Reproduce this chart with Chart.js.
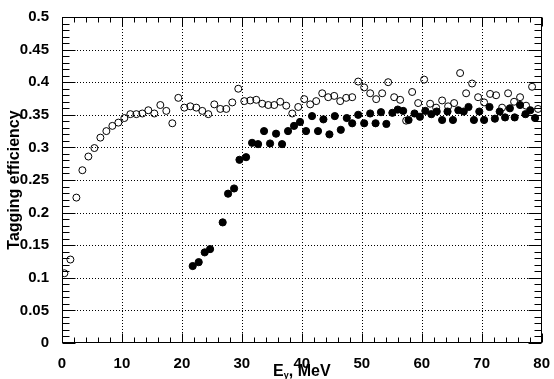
<!DOCTYPE html>
<html>
<head>
<meta charset="utf-8">
<script src="https://cdn.jsdelivr.net/npm/chart.js@4.4.1/dist/chart.umd.min.js"></script>
<style>
    html, body { margin: 0; padding: 0; background: #fff; }
    #chart { display: block; }
</style>
</head>
<body>
<canvas id="chart" width="554" height="379"></canvas>
<script>
// open circles: all tagged photons
var openEnergy = [0.4, 1.4, 2.4, 3.4, 4.4, 5.4, 6.4, 7.4, 8.4, 9.4,
    10.4, 11.4, 12.4, 13.4, 14.4, 15.4, 16.4, 17.4, 18.4, 19.4,
    20.4, 21.4, 22.4, 23.4, 24.4, 25.4, 26.4, 27.4, 28.4, 29.4,
    30.4, 31.4, 32.4, 33.4, 34.4, 35.4, 36.4, 37.4, 38.4, 39.4,
    40.4, 41.4, 42.4, 43.4, 44.4, 45.4, 46.4, 47.4, 48.4, 49.4,
    50.4, 51.4, 52.4, 53.4, 54.4, 55.4, 56.4, 57.4, 58.4, 59.4,
    60.4, 61.4, 62.4, 63.4, 64.4, 65.4, 66.4, 67.4, 68.4, 69.4,
    70.4, 71.4, 72.4, 73.4, 74.4, 75.4, 76.4, 77.4, 78.4, 79.4];
var openEff = [0.107, 0.128, 0.223, 0.265, 0.286, 0.299, 0.315, 0.325, 0.333, 0.338,
    0.345, 0.351, 0.351, 0.352, 0.357, 0.352, 0.365, 0.356, 0.337, 0.376,
    0.361, 0.363, 0.361, 0.356, 0.351, 0.366, 0.359, 0.359, 0.369, 0.390,
    0.371, 0.372, 0.373, 0.367, 0.365, 0.365, 0.370, 0.364, 0.352, 0.362,
    0.374, 0.366, 0.371, 0.383, 0.377, 0.379, 0.371, 0.376, 0.377, 0.401,
    0.392, 0.383, 0.374, 0.383, 0.400, 0.377, 0.373, 0.341, 0.385, 0.368,
    0.404, 0.367, 0.361, 0.372, 0.363, 0.368, 0.414, 0.383, 0.398, 0.377,
    0.369, 0.382, 0.380, 0.361, 0.383, 0.370, 0.377, 0.364, 0.393, 0.359];

// filled circles
var filledEnergy = [21.8, 22.8, 23.8, 24.7, 26.8, 27.7, 28.7, 29.6,
    30.7, 31.7, 32.7, 33.7, 34.7, 35.7, 36.7, 37.7, 38.7, 39.7,
    40.7, 41.7, 42.7, 43.6, 44.6, 45.5, 46.5, 47.5, 48.4, 49.4,
    50.4, 51.4, 52.3, 53.2, 54.1, 55.1, 56.0, 56.9, 57.8, 58.8, 59.7,
    60.6, 61.6, 62.5, 63.4, 64.3, 65.2, 66.1, 67.0, 67.8, 68.7, 69.6,
    70.4, 71.3, 72.2, 73.0, 73.9, 74.7, 75.5, 76.4, 77.3, 78.1, 78.9];
var filledEff = [0.118, 0.124, 0.139, 0.144, 0.185, 0.229, 0.237, 0.281,
    0.285, 0.307, 0.305, 0.325, 0.306, 0.321, 0.305, 0.325, 0.333, 0.339,
    0.325, 0.348, 0.325, 0.343, 0.320, 0.348, 0.327, 0.345, 0.337, 0.350,
    0.337, 0.352, 0.337, 0.354, 0.336, 0.353, 0.358, 0.356, 0.342, 0.352, 0.347,
    0.356, 0.351, 0.355, 0.342, 0.355, 0.342, 0.357, 0.355, 0.362, 0.342, 0.355,
    0.342, 0.362, 0.344, 0.355, 0.346, 0.360, 0.346, 0.365, 0.351, 0.357, 0.345];

var xMin = 0, xMax = 80, xStep = 10, xMinorStep = 2;
var yMin = 0, yMax = 0.5, yStep = 0.05, yMinorStep = 0.01;
var xTitleMain = 'E';
var xTitleSub = 'γ';
var xTitleRest = ', MeV';
var yTitle = 'Tagging efficiency';

var FONT = '"Liberation Sans", Arial, Helvetica, sans-serif';

function toPoints(xs, ys) {
    return xs.map(function(x, i) {
        return { x: x, y: ys[i] };
    });
}

// ROOT style frame: dotted grid, inner ticks on all four sides, axis titles
var frame = {
    id: 'frame',
    beforeDatasetsDraw: function(chart) {
        var ctx = chart.ctx;
        var area = chart.chartArea;
        var xs = chart.scales.x, ys = chart.scales.y;
        ctx.save();
        ctx.strokeStyle = '#000';
        ctx.lineWidth = 1;
        ctx.setLineDash([1, 2]);
        for (var v = xMin + xStep; v < xMax - 1e-9; v += xStep) {
            var px = Math.round(xs.getPixelForValue(v)) + 0.5;
            ctx.beginPath();
            ctx.moveTo(px, area.top);
            ctx.lineTo(px, area.bottom);
            ctx.stroke();
        }
        for (var k = 1; k < Math.round((yMax - yMin) / yStep); k++) {
            var py = Math.round(ys.getPixelForValue(yMin + k * yStep)) + 0.5;
            ctx.beginPath();
            ctx.moveTo(area.left, py);
            ctx.lineTo(area.right, py);
            ctx.stroke();
        }
        ctx.restore();
    },
    afterDatasetsDraw: function(chart) {
        var ctx = chart.ctx;
        var area = chart.chartArea;
        var xs = chart.scales.x, ys = chart.scales.y;
        var left = Math.round(area.left) + 0.5;
        var right = Math.round(area.right) - 0.5;
        var top = Math.round(area.top) + 0.5;
        var bottom = Math.round(area.bottom) - 0.5;
        ctx.save();
        ctx.strokeStyle = '#000';
        ctx.lineWidth = 1;
        ctx.setLineDash([]);
        ctx.strokeRect(left, top, right - left, bottom - top);

        ctx.beginPath();
        var nx = Math.round((xMax - xMin) / xMinorStep);
        for (var i = 0; i <= nx; i++) {
            var v = xMin + i * xMinorStep;
            var len = (v % xStep === 0) ? 9 : 5;
            var px = Math.round(xs.getPixelForValue(v)) + 0.5;
            ctx.moveTo(px, bottom);
            ctx.lineTo(px, bottom - len);
            ctx.moveTo(px, top);
            ctx.lineTo(px, top + len);
        }
        var ny = Math.round((yMax - yMin) / yMinorStep);
        for (var j = 0; j <= ny; j++) {
            var major = j % Math.round(yStep / yMinorStep) === 0;
            var lenY = major ? 13 : 7;
            var py = Math.round(ys.getPixelForValue(yMin + j * yMinorStep)) + 0.5;
            ctx.moveTo(left, py);
            ctx.lineTo(left + lenY, py);
            ctx.moveTo(right, py);
            ctx.lineTo(right - lenY, py);
        }
        ctx.stroke();

        // axis titles
        ctx.fillStyle = '#000';
        ctx.textBaseline = 'alphabetic';
        var mainFont = 'bold 16px ' + FONT;
        var subFont = 'bold 9px ' + FONT;
        ctx.font = mainFont;
        var wMain = ctx.measureText(xTitleMain).width;
        var wRest = ctx.measureText(xTitleRest).width;
        ctx.font = subFont;
        var wSub = ctx.measureText(xTitleSub).width;
        var total = wMain + wSub + wRest;
        var cx = (area.left + area.right) / 2;
        var x0 = cx - total / 2;
        var base = 376;
        ctx.font = mainFont;
        ctx.textAlign = 'left';
        ctx.fillText(xTitleMain, x0, base);
        ctx.font = subFont;
        ctx.fillText(xTitleSub, x0 + wMain, base + 2);
        ctx.font = mainFont;
        ctx.fillText(xTitleRest, x0 + wMain + wSub, base);

        ctx.translate(19, (area.top + area.bottom) / 2);
        ctx.rotate(-Math.PI / 2);
        ctx.textAlign = 'center';
        ctx.font = 'bold 16px ' + FONT;
        ctx.fillText(yTitle, 0, 0);
        ctx.restore();
    }
};

var chart = new Chart(document.getElementById('chart'), {
    type: 'scatter',
    data: {
        datasets: [
            {
                label: 'filled',
                data: toPoints(filledEnergy, filledEff),
                pointStyle: 'circle',
                pointRadius: 3.6,
                backgroundColor: '#000',
                borderColor: '#000',
                borderWidth: 1,
            },
            {
                label: 'open',
                data: toPoints(openEnergy, openEff),
                pointStyle: 'circle',
                pointRadius: 3.5,
                backgroundColor: 'rgba(0, 0, 0, 0)',
                borderColor: '#000',
                borderWidth: 1,
            },
        ],
    },
    options: {
        responsive: false,
        animation: false,
        devicePixelRatio: 1,
        layout: { padding: { top: 17, right: 9, left: 0, bottom: 0 } },
        plugins: {
            legend: { display: false },
            tooltip: { enabled: false },
        },
        scales: {
            x: {
                type: 'linear',
                min: xMin,
                max: xMax,
                grid: { display: false },
                border: { display: false },
                ticks: {
                    stepSize: xStep,
                    autoSkip: false,
                    maxRotation: 0,
                    padding: 4,
                    color: '#000',
                    font: { family: FONT, size: 15, weight: 'bold' },
                },
                afterFit: function(scale) {
                    scale.height = 36;
                },
            },
            y: {
                type: 'linear',
                min: yMin,
                max: yMax,
                grid: { display: false },
                border: { display: false },
                ticks: {
                    stepSize: yStep,
                    padding: 5,
                    color: '#000',
                    font: { family: FONT, size: 15, weight: 'bold' },
                    callback: function(v) {
                        return String(+v.toFixed(2));
                    },
                },
                afterFit: function(scale) {
                    scale.width = 62;
                },
            },
        },
    },
    plugins: [frame],
});
</script>
</body>
</html>
